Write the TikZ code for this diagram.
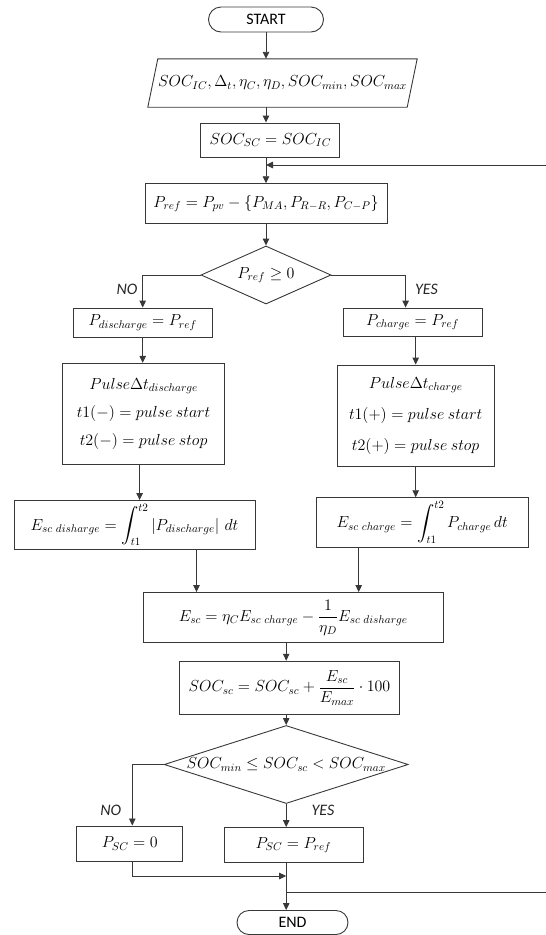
\documentclass[tikz,border=0pt]{standalone}
\usepackage{fix-cm}
\usepackage{amsmath}
\usepackage{fontspec}
\setmainfont{Carlito}
\usetikzlibrary{shapes.geometric,shapes.misc,arrows.meta}
\newcommand{\mfont}{\fontsize{16}{19}\selectfont}
\newcommand{\lfont}{\fontsize{16}{19}\selectfont}
\begin{document}
\begin{tikzpicture}[x=1pt,y=-1pt,
  line/.style={draw=black!78, line width=0.9pt},
  arr/.style={line, -{Triangle[length=7pt,width=6.5pt]}},
  box/.style={line, rectangle, inner sep=0pt, font=\mfont},
  term/.style={line, rounded rectangle, inner sep=0pt, minimum width=115pt, minimum height=25pt, font=\lfont},
  dec/.style={line, diamond, inner sep=0pt},
  lbl/.style={font=\lfont\itshape, inner sep=0pt, text=black!85}]
\useasboundingbox (0,0) rectangle (546,935);

% nodes
\node[term] (start) at (266,19.5) {START};
\node[inner sep=0pt, minimum width=259pt, minimum height=48pt, font=\mfont] (inp) at (282.5,83) {$SOC_{IC},\Delta_t,\eta_C,\eta_D,SOC_{min},SOC_{max}$};
\draw[line] ([xshift=-5pt]inp.south west) -- ([xshift=-5pt]inp.south east) -- ([xshift=5pt]inp.north east) -- ([xshift=5pt]inp.north west) -- cycle;
\node[box, minimum width=139pt, minimum height=34pt] (soc0) at (270.4,140) {$SOC_{SC}=SOC_{IC}$};
\node[box, minimum width=242pt, minimum height=40pt] (pref) at (266,203.7) {$P_{ref}=P_{pv}-\{P_{MA},P_{R-R},P_{C-P}\}$};
\node[dec, minimum width=130pt, minimum height=58pt] (d1) at (266,275) {};
\node[font=\mfont, inner sep=0pt] (d1t) at (d1) {$P_{ref}\geq 0$};
\node[box, minimum width=139pt, minimum height=29pt] (pdis) at (142.7,322.5) {$P_{discharge}=P_{ref}$};
\node[box, minimum width=139pt, minimum height=28pt] (pch) at (412.6,322) {$P_{charge}=P_{ref}$};
\node[box, minimum width=162pt, minimum height=101pt, align=center, font={\fontsize{16}{28}\selectfont}] (puldis) at (143.6,413.8)
  {$Pulse\Delta t_{discharge}$\\ $t1(-)=pulse\ start$\\ $t2(-)=pulse\ stop$};
\node[box, minimum width=157pt, minimum height=101pt, align=center, font={\fontsize{16}{31}\selectfont}] (pulch) at (415.7,415.5)
  {$Pulse\Delta t_{charge}$\\ $t1(+)=pulse\ start$\\ $t2(+)=pulse\ stop$};
\node[box, minimum width=241pt, minimum height=49pt] (edis) at (134.5,525) {$E_{sc\ disharge}=\displaystyle\int_{t1}^{t2}\left|P_{discharge}\right|\,dt$};
\node[box, minimum width=212.5pt, minimum height=50pt] (ech) at (422.2,522.7) {$E_{sc\ charge}=\displaystyle\int_{t1}^{t2}P_{charge}\,dt$};
\node[box, minimum width=299.5pt, minimum height=50pt] (esc) at (293.2,617.5) {$E_{sc}=\eta_C E_{sc\ charge}-\dfrac{1}{\eta_D}E_{sc\ disharge}$};
\node[box, minimum width=220pt, minimum height=53pt] (socsc) at (289.5,687.7) {$SOC_{sc}=SOC_{sc}+\dfrac{E_{sc}}{E_{max}}\cdot 100$};
\node[dec, minimum width=244pt, minimum height=78pt] (d2) at (286.2,764.5) {};
\node[font=\mfont, inner sep=0pt] (d2t) at (d2) {$SOC_{min}\leq SOC_{sc}<SOC_{max}$};
\node[box, minimum width=106pt, minimum height=35.5pt] (psc0) at (129.7,843.7) {$P_{SC}=0$};
\node[box, minimum width=139pt, minimum height=35pt] (pscr) at (293.5,845) {$P_{SC}=P_{ref}$};
\node[term, minimum width=111pt, minimum height=24pt] (endn) at (292.5,922.5) {END};

% labels
\node[lbl] (no1) at (127,289.5) {NO};
\node[lbl] (yes1) at (426.5,289.5) {YES};
\node[lbl] (no2) at (110.7,810) {NO};
\node[lbl] (yes2) at (323,810) {YES};

% coordinates
\coordinate (j1) at (286.2,876);
\coordinate (j2) at (286.2,892);
\coordinate (fbr) at (560,165);
\coordinate (fbb) at (560,892);

% connectors
\draw[arr] (start.south) -- (start.south |- inp.north);
\draw[arr] (start.south |- inp.south) -- (start.south |- soc0.north);
\draw[arr] (start.south |- soc0.south) -- (start.south |- pref.north);
\draw[arr] (pref.south) -- (d1.north);
\draw[arr] (d1.west) -| (pdis.north);
\draw[arr] (d1.east) -| ([xshift=-7pt]pch.north);
\draw[arr] (pdis.south) -- (pdis.south |- puldis.north);
\draw[arr] (pulch.north |- pch.south) -- (pulch.north);
\draw[arr] ([xshift=-4pt]puldis.south) -- ([xshift=-4pt]puldis.south |- edis.north);
\draw[arr] (pulch.south) -- (pulch.south |- ech.north);
\draw[arr] ([xshift=62pt]edis.south) -- ([xshift=62pt]edis.south |- esc.north);
\draw[arr] ([xshift=-63.5pt]ech.south) -- ([xshift=-63.5pt]ech.south |- esc.north);
\draw[arr] (d2.north |- esc.south) -- (d2.north |- socsc.north);
\draw[arr] (d2.north |- socsc.south) -- (d2.north);
\draw[arr] (d2.west) -| ([xshift=2.6pt]psc0.north);
\draw[arr] (d2.south) -- (d2.south |- pscr.north);
\draw[arr] ([xshift=2.6pt]psc0.south) |- (j1);
\draw[arr] (d2.south |- pscr.south) -- (d2.south |- endn.north);
\draw[arr] (j2) -- (fbb) -- (fbr) -- (start.south |- fbr);
\end{tikzpicture}
\end{document}
